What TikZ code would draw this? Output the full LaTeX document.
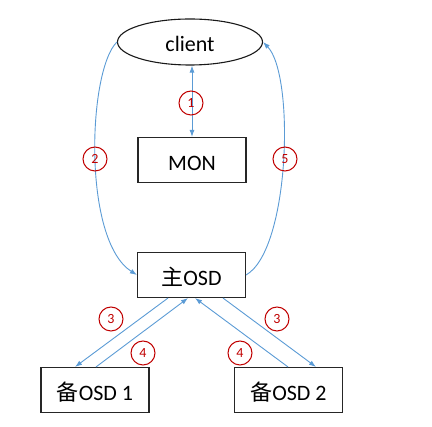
\documentclass[tikz,border=0pt]{standalone}
\usepackage{fontspec}
\setmainfont{Carlito}
\newfontfamily\cjk{Noto Sans CJK SC}
\usetikzlibrary{arrows.meta,shapes.geometric}
\definecolor{arrblue}{HTML}{5B9BD5}
\definecolor{numred}{HTML}{C00000}
\tikzset{
  box/.style={draw=black!85, line width=1.1pt, minimum width=108pt, minimum height=45pt, inner sep=0pt, text height=22pt, text depth=0pt, font=\fontsize{22}{26}\selectfont},
  num/.style={circle, draw=numred, line width=1pt, minimum size=24pt, inner sep=0pt, text=numred, font=\fontsize{14}{16}\selectfont},
  arr/.style={draw=arrblue, line width=0.9pt, -{Latex[length=7pt,width=5pt]}},
  barr/.style={draw=arrblue, line width=0.9pt, {Latex[length=7pt,width=5pt]}-{Latex[length=7pt,width=5pt]}}
}
\begin{document}
\begin{tikzpicture}[x=1pt,y=-1pt]
\useasboundingbox (0,0) rectangle (432,427);
\node[ellipse, draw=black!90, line width=1.1pt, minimum width=145pt, minimum height=46pt, inner sep=0pt, text height=20pt, text depth=0pt, font=\fontsize{22}{26}\selectfont] (client) at (190,42) {client};
\node[box] (mon) at (192,160) {MON};
\node[box] (mosd) at (191.5,275) {{\cjk 主}OSD};
\node[box] (osda) at (95,390) {{\cjk 备}OSD 1};
\node[box] (osdb) at (288.5,390) {{\cjk 备}OSD 2};

\draw[barr] (client.south -| mon.north) -- (mon.north);
\draw[arr] (client.west) .. controls (88,70) and (82,240) .. (mosd.west);
\draw[arr] (mosd.east) .. controls (290,250) and (295,75) .. (client.east);

\draw[arr] ([xshift=-23.5pt]mosd.south) -- ([xshift=-20pt]osda.north);
\draw[arr] ([xshift=1pt]osda.north) -- ([xshift=-3.5pt]mosd.south);
\draw[arr] ([xshift=-0.5pt]osdb.north) -- ([xshift=3.5pt]mosd.south);
\draw[arr] ([xshift=31.5pt]mosd.south) -- ([xshift=27.5pt]osdb.north);

\node[num] (n1) at (191,103) {1};
\node[num] (n2) at (95,159) {2};
\node[num] (n5) at (285,159) {5};
\node[num] (n3a) at (111,319) {3};
\node[num] (n4a) at (143,353) {4};
\node[num] (n4b) at (240,353) {4};
\node[num] (n3b) at (277,319) {3};
\end{tikzpicture}
\end{document}
